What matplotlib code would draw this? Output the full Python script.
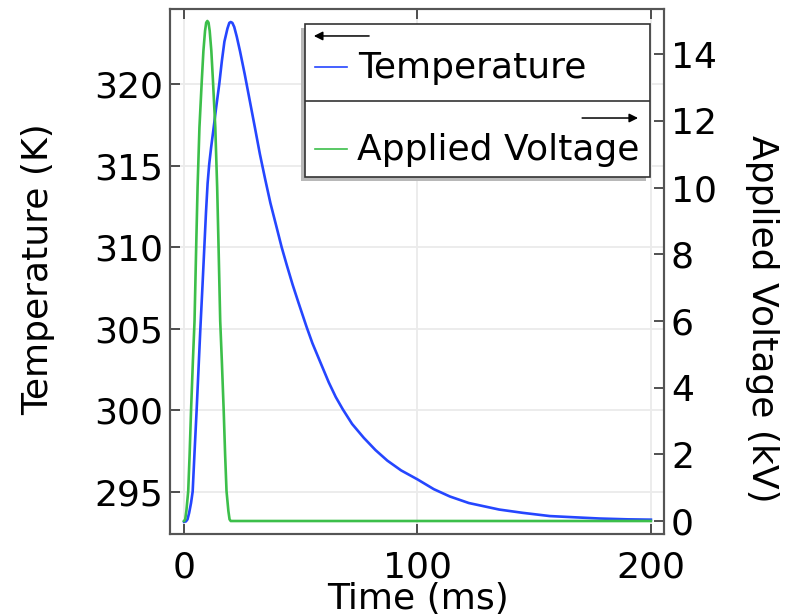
import matplotlib
matplotlib.use('Agg')
import matplotlib.pyplot as plt
from matplotlib.patches import Rectangle

# values
time_temp = [0, 0.8, 1.5, 2.2, 3.0, 3.7, 4.5, 5.4, 6.2, 7.0, 7.9, 8.7, 9.4,
             10.1, 10.8, 11.6, 12.5, 13.8, 15.1, 16.2, 17.3, 18.6, 19.4, 20,
             20.7, 21.5, 22.6, 24, 26, 28, 30.4, 32.5, 34.7, 37, 39.5, 41.8,
             44, 46.5, 49, 52.5, 55, 58.2, 62, 65, 68, 72, 77, 82, 87.1, 93,
             100, 107, 113.9, 122, 135, 145, 156.7, 168, 178, 190, 200]
temperature = [293.15, 293.17, 293.3, 293.7, 294.3, 295.0, 297.4, 300.0, 302.5,
               305.0, 307.6, 310.0, 312.1, 313.9, 315.1, 316.1, 317.1, 318.6,
               320.0, 321.4, 322.6, 323.4, 323.75, 323.8, 323.75, 323.5, 322.9,
               322.0, 320.6, 319.1, 317.3, 315.7, 314.2, 312.7, 311.3, 310.0,
               308.9, 307.7, 306.6, 305.1, 304.1, 303.0, 301.7, 300.8, 300.05,
               299.15, 298.3, 297.55, 296.9, 296.3, 295.75, 295.15, 294.7,
               294.3, 293.9, 293.7, 293.5, 293.42, 293.35, 293.3, 293.28]

time_volt = [0, 0.5, 1, 1.8, 2.4, 3.0, 3.8, 4.5, 5.2, 5.8, 6.6, 7.6, 8.3, 9.0,
             9.5, 10, 10.5, 11.0, 11.7, 12.4, 13.4, 14.2, 14.8, 15.5, 16.2,
             17.0, 17.6, 18.2, 19.0, 19.5, 20, 200]
voltage = [0, 0.05, 0.3, 0.9, 2.0, 3.3, 4.8, 6.0, 8.2, 10.0, 11.8, 13.2, 14.1,
           14.7, 14.95, 15.0, 14.95, 14.7, 14.1, 13.2, 11.8, 10.0, 8.2, 6.0,
           4.8, 3.3, 2.0, 0.9, 0.3, 0.05, 0, 0]

x_ticks = [0, 100, 200]
temp_ticks = [295, 300, 305, 310, 315, 320]
volt_ticks = [0, 2, 4, 6, 8, 10, 12, 14]

blue = '#2546ff'
green = '#3cbf4a'
spine_col = '#555555'
fs = 26

fig = plt.figure(figsize=(7.93, 6.15), dpi=100)
ax = fig.add_axes([0.2144, 0.1317, 0.6229, 0.8537])
ax2 = ax.twinx()

ax.plot(time_temp, temperature, color=blue, lw=1.9, zorder=3)
ax2.plot(time_volt, voltage, color=green, lw=1.9, zorder=3)

ax.set_xlim(-6, 205.6)
ax.set_ylim(292.4, 324.6)
ax2.set_ylim(-0.39, 15.36)
ax.set_xticks(x_ticks)
ax.set_yticks(temp_ticks)
ax2.set_yticks(volt_ticks)

ax.grid(color='#ebebeb', lw=1.3)
ax.set_axisbelow(True)

for a in (ax, ax2):
    for s in a.spines.values():
        s.set_color(spine_col)
        s.set_linewidth(1.5)
ax.tick_params(axis='both', direction='in', length=7, width=1.2, color='#333333',
               labelsize=fs, pad=5)
ax.tick_params(axis='x', top=True, pad=12)
ax.tick_params(axis='y', right=False)
ax2.tick_params(axis='y', direction='in', length=7, width=1.2, color='#333333',
                labelsize=fs, pad=5)

ax.set_xlabel('Time (ms)', fontsize=fs)
ax.xaxis.set_label_coords(0.502, -0.092)
ax.set_ylabel('Temperature (K)', fontsize=fs)
ax.yaxis.set_label_coords(-0.232, 0.505)
ax2.set_ylabel('Applied Voltage (kV)', fontsize=fs, rotation=270, va='center')
ax2.yaxis.set_label_coords(1.198, 0.41)

# legend drawn by hand (two rows with axis arrows, like the reference)
leg = ax2.inset_axes([0.273, 0.680, 0.699, 0.291])
leg.set_xlim(0, 1)
leg.set_ylim(0, 1)
leg.axis('off')
leg.add_patch(Rectangle((-0.012, -0.025), 1, 1, facecolor='#b8b8b8',
                        edgecolor='none', clip_on=False, zorder=1))
leg.add_patch(Rectangle((0, 0), 1, 1, facecolor='white', edgecolor='#333333',
                        lw=1.2, clip_on=False, zorder=2))
leg.plot([0, 1], [0.5, 0.5], color='#333333', lw=1.2, zorder=3)
leg.annotate('', xy=(0.026, 0.923), xytext=(0.186, 0.923),
             arrowprops=dict(arrowstyle='-|>', color='black', lw=1.1,
                             mutation_scale=13, shrinkA=0, shrinkB=0), zorder=4)
leg.annotate('', xy=(0.965, 0.386), xytext=(0.803, 0.386),
             arrowprops=dict(arrowstyle='-|>', color='black', lw=1.1,
                             mutation_scale=13, shrinkA=0, shrinkB=0), zorder=4)
leg.plot([0.029, 0.122], [0.717, 0.717], color=blue, lw=1.2, zorder=4)
leg.plot([0.029, 0.122], [0.183, 0.183], color=green, lw=1.2, zorder=4)
leg.text(0.154, 0.647, 'Temperature', fontsize=fs, va='baseline', zorder=4)
leg.text(0.151, 0.111, 'Applied Voltage', fontsize=fs, va='baseline', zorder=4)

fig.savefig('out.png', dpi=100)
